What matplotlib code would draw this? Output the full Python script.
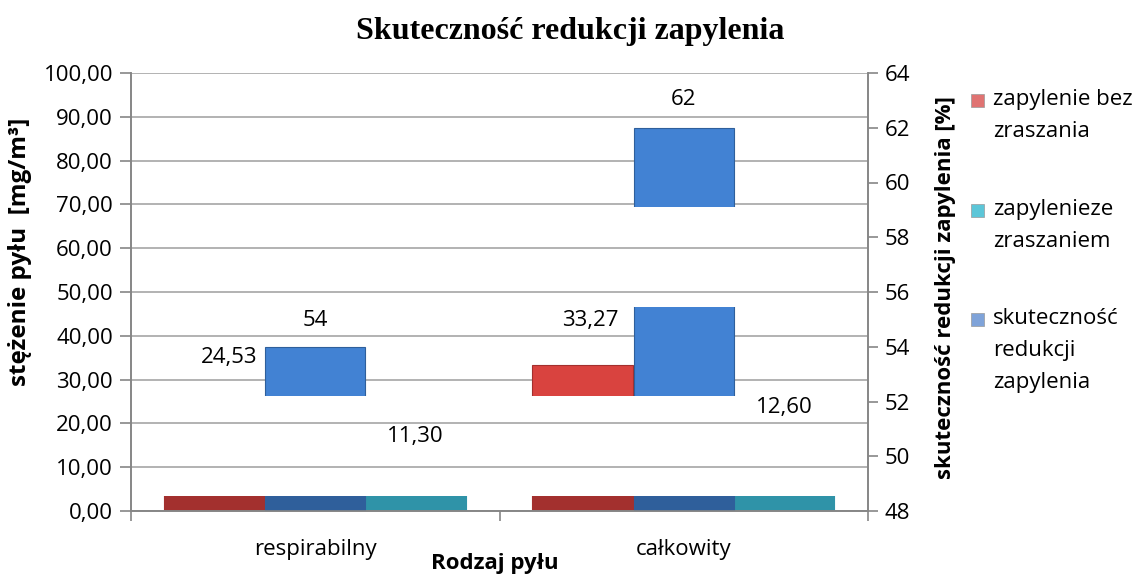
import matplotlib.pyplot as plt
from matplotlib.patches import Rectangle
import numpy as np

# dane z wykresu
kategorie = ["respirabilny", "całkowity"]
bez_zraszania = [24.53, 33.27]
ze_zraszaniem = [11.30, 12.60]
skutecznosc = [54, 62]

etykiety_bez = ["24,53", "33,27"]
etykiety_ze = ["11,30", "12,60"]
etykiety_sk = ["54", "62"]

plt.rcParams['font.family'] = ['Open Sans', 'DejaVu Sans']

fig = plt.figure(figsize=(11.41, 5.77), dpi=100)
ax = fig.add_axes([131 / 1141, 66 / 577, 737 / 1141, 438 / 577])
ax2 = ax.twinx()

x = np.arange(len(kategorie))
w = 0.272
grey = "#868686"

# pasma widoczne w oryginale (w jednostkach osi, 0-1)
pasma = [(0.0, 0.034), (0.263, 0.466), (0.695, 1.0)]


def rysuj(os, xs, wart, dol, kol_dol, kol_gora):
    for i, (y0, y1) in enumerate(pasma):
        kol = kol_dol if i == 0 else kol_gora
        bars = os.bar(xs, np.array(wart) - dol, w, bottom=dol, color=kol,
                      edgecolor=kol_dol, linewidth=0.8, zorder=2)
        clip = Rectangle((0, y0), 1, y1 - y0, transform=os.transAxes)
        for b in bars:
            b.set_clip_path(clip)


rysuj(ax, x - w * 1.01, bez_zraszania, 0, "#A3302E", "#D9433F")
rysuj(ax, x + w * 1.0, ze_zraszaniem, 0, "#2F93A8", "#3AA9C0")
rysuj(ax2, x, skutecznosc, 48, "#2F5F9B", "#4282D3")

# etykiety danych
fs = 16
off_bez = [(10, 33), (5, 32)]
off_ze = [(0, 18), (0, 35)]
off_sk = [(0, 19), (0, 20)]
for i in range(len(kategorie)):
    ax.annotate(etykiety_bez[i], (x[i] - w, bez_zraszania[i]), xytext=off_bez[i],
                textcoords="offset points", ha="center", va="center", fontsize=fs)
    ax.annotate(etykiety_ze[i], (x[i] + w, ze_zraszaniem[i]), xytext=off_ze[i],
                textcoords="offset points", ha="center", va="center", fontsize=fs)
    ax2.annotate(etykiety_sk[i], (x[i], skutecznosc[i]), xytext=off_sk[i],
                 textcoords="offset points", ha="center", va="center", fontsize=fs)

# osie
ax.set_xlim(-0.5, 1.5)
ax.set_ylim(0, 100)
ax.set_yticks(np.arange(0, 101, 10))
ax.set_yticklabels([f"{v:.2f}".replace(".", ",") for v in np.arange(0, 101, 10)], fontsize=fs)
ax.yaxis.grid(True, color="#A6A6A6", linewidth=1.2)
ax.set_axisbelow(True)

ax2.set_ylim(48, 64)
ax2.set_yticks(np.arange(48, 65, 2))
ax2.tick_params(axis="y", labelsize=fs, length=7, color=grey, width=1.2, pad=5)

ax.set_xticks([-0.5, 0.5, 1.5])
ax.set_xticklabels([])
ax.set_xticks(x, minor=True)
ax.set_xticklabels(kategorie, minor=True, fontsize=fs)
ax.tick_params(axis="x", which="major", length=7, color=grey, width=1.2)
ax.tick_params(axis="x", which="minor", length=0, pad=20)
ax.tick_params(axis="y", length=8, color=grey, width=1.2, pad=5)

for a in (ax, ax2):
    a.spines["top"].set_visible(False)
    for s in ("left", "right", "bottom"):
        a.spines[s].set_color(grey)
        a.spines[s].set_linewidth(1.2)

# tytuły
fig.text(570 / 1141, 1 - 32 / 577, "Skuteczność redukcji zapylenia", ha="center", va="center",
         fontsize=23, fontweight="bold", family="Liberation Serif")
fig.text(495 / 1141, 1 - 564 / 577, "Rodzaj pyłu", ha="center", va="center",
         fontsize=16, fontweight="bold")
fig.text(20 / 1141, 1 - 252 / 577, "stężenie pyłu  [mg/m³]", ha="center", va="center",
         rotation=90, fontsize=17.5, fontweight="bold")
fig.text(945 / 1141, 1 - 288 / 577, "skuteczność redukcji zapylenia [%]", ha="center",
         va="center", rotation=90, fontsize=16, fontweight="bold")

# legenda
legenda = [("zapylenie bez\nzraszania", "#E07372", 100),
           ("zapylenieze\nzraszaniem", "#5CC6D8", 210),
           ("skuteczność\nredukcji\nzapylenia", "#7FA3D9", 319)]
for tekst, kol, ypx in legenda:
    fig.patches.append(Rectangle((971 / 1141, 1 - (ypx + 7) / 577), 13 / 1141, 13 / 577,
                                 transform=fig.transFigure, facecolor=kol,
                                 edgecolor="#9A9A9A", linewidth=0.5))
    fig.text(993 / 1141, 1 - (ypx - 11) / 577, tekst, ha="left", va="top",
             fontsize=fs, linespacing=1.7)

fig.savefig("out.png", dpi=100)
